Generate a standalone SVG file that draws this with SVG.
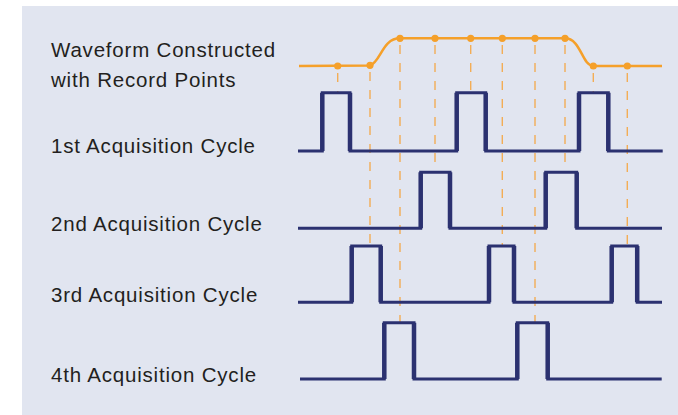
<svg xmlns="http://www.w3.org/2000/svg" width="678" height="415" viewBox="0 0 678 415">
<style>
.lbl{font-family:"Liberation Sans",Arial,sans-serif;font-size:20.5px;fill:#231f20;letter-spacing:0.8px}
.pulse{fill:none;stroke:#2b3170;stroke-width:3;stroke-linejoin:miter}
.edge{fill:none;stroke:#2b3170;stroke-width:4.5}
.wave{fill:none;stroke:#f5a02a;stroke-width:2.5}
.dot{fill:#f5a02a}
.dash{stroke:#f3ad55;stroke-width:1.4;stroke-dasharray:9 9;fill:none}
</style>
<rect x="0" y="0" width="678" height="415" fill="#ffffff"/>
<rect x="22" y="6" width="656" height="409" fill="#e1e5f0"/>
<g id="connectors">
<line class="dash" x1="337.7" y1="73" x2="337.7" y2="92.7"/>
<line class="dash" x1="370" y1="72" x2="370" y2="246"/>
<line class="dash" x1="400" y1="45" x2="400" y2="322.7"/>
<line class="dash" x1="435" y1="45" x2="435" y2="172.3"/>
<line class="dash" x1="470.7" y1="45" x2="470.7" y2="92.7"/>
<line class="dash" x1="502.3" y1="45" x2="502.3" y2="246"/>
<line class="dash" x1="535" y1="45" x2="535" y2="322.7"/>
<line class="dash" x1="565" y1="45" x2="565" y2="172.3"/>
<line class="dash" x1="593.3" y1="73" x2="593.3" y2="92.7"/>
<line class="dash" x1="627.3" y1="73" x2="627.3" y2="246"/>
</g>
<g id="waveform">
<text class="lbl" x="51" y="57.3">Waveform Constructed</text>
<text class="lbl" x="51" y="86.7">with Record Points</text>
<path class="wave" d="M299,66 L370,65.5 C381,62 382,38.3 400,38.3 L565,38.3 C581,38.3 582,66 593.3,66 L662,66"/>
<circle class="dot" cx="337.7" cy="66" r="3.6"/>
<circle class="dot" cx="370" cy="65.3" r="3.6"/>
<circle class="dot" cx="400" cy="38.3" r="3.6"/>
<circle class="dot" cx="435" cy="38.3" r="3.6"/>
<circle class="dot" cx="470.7" cy="38.3" r="3.6"/>
<circle class="dot" cx="502.3" cy="38.3" r="3.6"/>
<circle class="dot" cx="535" cy="38.3" r="3.6"/>
<circle class="dot" cx="565" cy="38.3" r="3.6"/>
<circle class="dot" cx="593.3" cy="66" r="3.6"/>
<circle class="dot" cx="627.3" cy="66" r="3.6"/>
</g>
<g id="cycle1">
<text class="lbl" x="51" y="152.7">1st Acquisition Cycle</text>
<path class="pulse" d="M298,151 H322.3 V92.7 H350 V151 H456.7 V92.7 H485.7 V151 H579 V92.7 H608.3 V151 H662.7"/>
<path class="edge" d="M322.3,151 V92.7 M350,92.7 V151 M456.7,151 V92.7 M485.7,92.7 V151 M579,151 V92.7 M608.3,92.7 V151"/>
</g>
<g id="cycle2">
<text class="lbl" x="51" y="231">2nd Acquisition Cycle</text>
<path class="pulse" d="M298,228.3 H420.7 V172.3 H450 V228.3 H545.7 V172.3 H576.7 V228.3 H662"/>
<path class="edge" d="M420.7,228.3 V172.3 M450,172.3 V228.3 M545.7,228.3 V172.3 M576.7,172.3 V228.3"/>
</g>
<g id="cycle3">
<text class="lbl" x="51" y="301.7">3rd Acquisition Cycle</text>
<path class="pulse" d="M298,302.3 H351.7 V246 H380.7 V302.3 H489 V246 H514 V302.3 H611.7 V246 H637.2 V302.3 H662"/>
<path class="edge" d="M351.7,302.3 V246 M380.7,246 V302.3 M489,302.3 V246 M514,246 V302.3 M611.7,302.3 V246 M637.2,246 V302.3"/>
</g>
<g id="cycle4">
<text class="lbl" x="51" y="381.7">4th Acquisition Cycle</text>
<path class="pulse" d="M300,379 H384.3 V322.7 H414 V379 H517.3 V322.7 H547.7 V379 H661.7"/>
<path class="edge" d="M384.3,379 V322.7 M414,322.7 V379 M517.3,379 V322.7 M547.7,322.7 V379"/>
</g>
</svg>
